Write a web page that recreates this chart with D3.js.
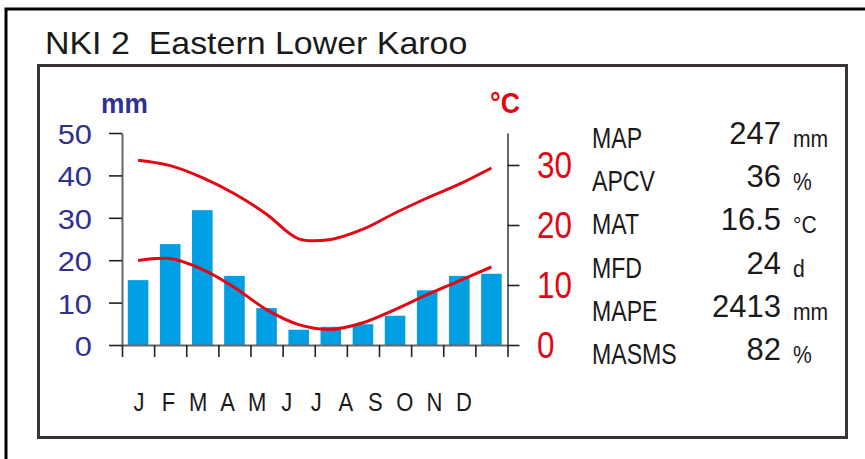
<!DOCTYPE html>
<html>
<head>
<meta charset="utf-8">
<script src="https://cdn.jsdelivr.net/npm/d3@7"></script>
<style>
    body { margin: 0; background: #fff; }
    svg text { font-family: "Liberation Sans", Arial, sans-serif; }
</style>
</head>
<body>
<script>
const title = "NKI 2  Eastern Lower Karoo";
const months = ["J", "F", "M", "A", "M", "J", "J", "A", "S", "O", "N", "D"];
const rainfall = [15.3, 23.8, 31.8, 16.3, 8.7, 3.6, 4.3, 4.9, 6.9, 12.9, 16.3, 16.8];   // mm
const tempMax = [30.8, 29.9, 27.9, 25.2, 21.8, 17.7, 17.6, 19.3, 22.0, 24.5, 26.8, 29.5];  // °C
const tempMin = [14.1, 14.4, 12.6, 9.6, 5.9, 3.4, 2.6, 3.7, 5.9, 8.4, 10.7, 13.0];      // °C
const rainTicks = [0, 10, 20, 30, 40, 50];
const tempTicks = [0, 10, 20, 30];
const statNames = ["MAP", "APCV", "MAT", "MFD", "MAPE", "MASMS"];
const statValues = ["247", "36", "16.5", "24", "2413", "82"];
const statUnits = ["mm", "%", "°C", "d", "mm", "%"];

const width = 865, height = 459;
const navy = "#2e3192", red = "#e30613", blue = "#009fe3";

let svg = d3.select("body").append("svg")
    .attr("width", width)
    .attr("height", height);

//outer frame, only the top and left edges are inside the picture
svg.append("rect")
    .attr("x", 6).attr("y", 9)
    .attr("width", 950).attr("height", 500)
    .attr("fill", "none").attr("stroke", "#000").attr("stroke-width", 3);

//inner box round the chart
svg.append("rect")
    .attr("x", 38.5).attr("y", 65.5)
    .attr("width", 808).attr("height", 372)
    .attr("fill", "none").attr("stroke", "#3b3434").attr("stroke-width", 3);

svg.append("text")
    .attr("transform", "translate(45,54) scale(1.06,1)")
    .style("white-space", "pre")
    .attr("font-size", 32)
    .attr("fill", "#1a1a1a")
    .text(title);

// scales, both y axes share the same zero line
let xScale = d3.scaleBand()
    .domain(d3.range(months.length))
    .range([122, 507.5])
    .paddingInner(0.36)
    .paddingOuter(0.18);

let xEdge = d3.scaleLinear()
    .domain([0, months.length])
    .range([122, 507.5]);

let xLabel = d3.scalePoint()
    .domain(d3.range(months.length))
    .range([139, 464]);

let yRain = d3.scaleLinear()
    .domain([0, 50])
    .range([345, 133]);

let yTemp = d3.scaleLinear()
    .domain([0, 212 / 6])
    .range([345, 133]);

// bars first so the temperature lines sit on top
svg.append("g")
    .selectAll("rect")
    .data(rainfall)
    .join("rect")
    .attr("x", (d, i) => xScale(i))
    .attr("y", d => yRain(d))
    .attr("width", xScale.bandwidth())
    .attr("height", d => yRain(0) - yRain(d))
    .attr("fill", blue);

let line = d3.line()
    .x((d, i) => xScale(i) + xScale.bandwidth() / 2)
    .y(d => yTemp(d))
    .curve(d3.curveCatmullRom.alpha(0.5));

[tempMax, tempMin].forEach(series => {
    svg.append("path")
        .datum(series)
        .attr("d", line)
        .attr("fill", "none")
        .attr("stroke", red)
        .attr("stroke-width", 3)
        .attr("stroke-linejoin", "round");
});

// axes without labels, the labels are drawn by hand below
function styleAxis(g) {
    g.select(".domain").attr("stroke", "#666").attr("stroke-width", 2);
    g.selectAll(".tick line").attr("stroke", "#222").attr("stroke-width", 1.6);
}

svg.append("g")
    .attr("transform", "translate(122,0)")
    .call(d3.axisLeft(yRain).tickValues(rainTicks).tickSize(13).tickSizeOuter(0).tickFormat(""))
    .call(styleAxis);

svg.append("g")
    .attr("transform", "translate(507.5,0)")
    .call(d3.axisRight(yTemp).tickValues(tempTicks).tickSize(12).tickSizeOuter(0).tickFormat(""))
    .call(styleAxis);

svg.append("g")
    .attr("transform", "translate(0,345)")
    .call(d3.axisBottom(xEdge).tickValues(d3.range(months.length + 1)).tickSize(12).tickSizeOuter(0).tickFormat(""))
    .call(styleAxis);

// left labels (mm)
svg.append("g")
    .selectAll("text")
    .data(rainTicks)
    .join("text")
    .attr("transform", d => "translate(92," + (yRain(d) + 11) + ") scale(1.1,1)")
    .attr("text-anchor", "end")
    .attr("font-size", 28)
    .attr("fill", navy)
    .text(d => d);

// right labels (°C)
svg.append("g")
    .selectAll("text")
    .data(tempTicks)
    .join("text")
    .attr("transform", d => "translate(537," + (yTemp(d) + 13) + ") scale(0.85,1)")
    .attr("font-size", 37)
    .attr("fill", red)
    .text(d => d);

svg.append("text")
    .attr("transform", "translate(101,113) scale(0.94,1)")
    .attr("font-size", 28)
    .attr("font-weight", "bold")
    .attr("fill", navy)
    .text("mm");

svg.append("text")
    .attr("transform", "translate(490,113) scale(0.92,1)")
    .attr("font-size", 29)
    .attr("font-weight", "bold")
    .attr("fill", red)
    .text("°C");

// month letters
svg.append("g")
    .selectAll("text")
    .data(months)
    .join("text")
    .attr("transform", (d, i) => "translate(" + xLabel(i) + ",411) scale(0.88,1)")
    .attr("text-anchor", "middle")
    .attr("font-size", 25)
    .attr("fill", "#1a1a1a")
    .text(d => d);

// climate summary on the right
let yStat = d3.scalePoint()
    .domain(d3.range(statNames.length))
    .range([144, 360]);

let stats = svg.append("g")
    .selectAll("g")
    .data(statNames)
    .join("g");

stats.append("text")
    .attr("transform", (d, i) => "translate(592," + (yStat(i) + 4) + ") scale(0.77,1)")
    .attr("font-size", 30)
    .attr("fill", "#1a1a1a")
    .text(d => d);

stats.append("text")
    .attr("x", 781)
    .attr("y", (d, i) => yStat(i))
    .attr("text-anchor", "end")
    .attr("font-size", 31)
    .attr("fill", "#1a1a1a")
    .text((d, i) => statValues[i]);

stats.append("text")
    .attr("transform", (d, i) => "translate(793," + (yStat(i) + 3) + ") scale(0.88,1)")
    .attr("font-size", 24)
    .attr("fill", "#1a1a1a")
    .text((d, i) => statUnits[i]);
</script>
</body>
</html>
